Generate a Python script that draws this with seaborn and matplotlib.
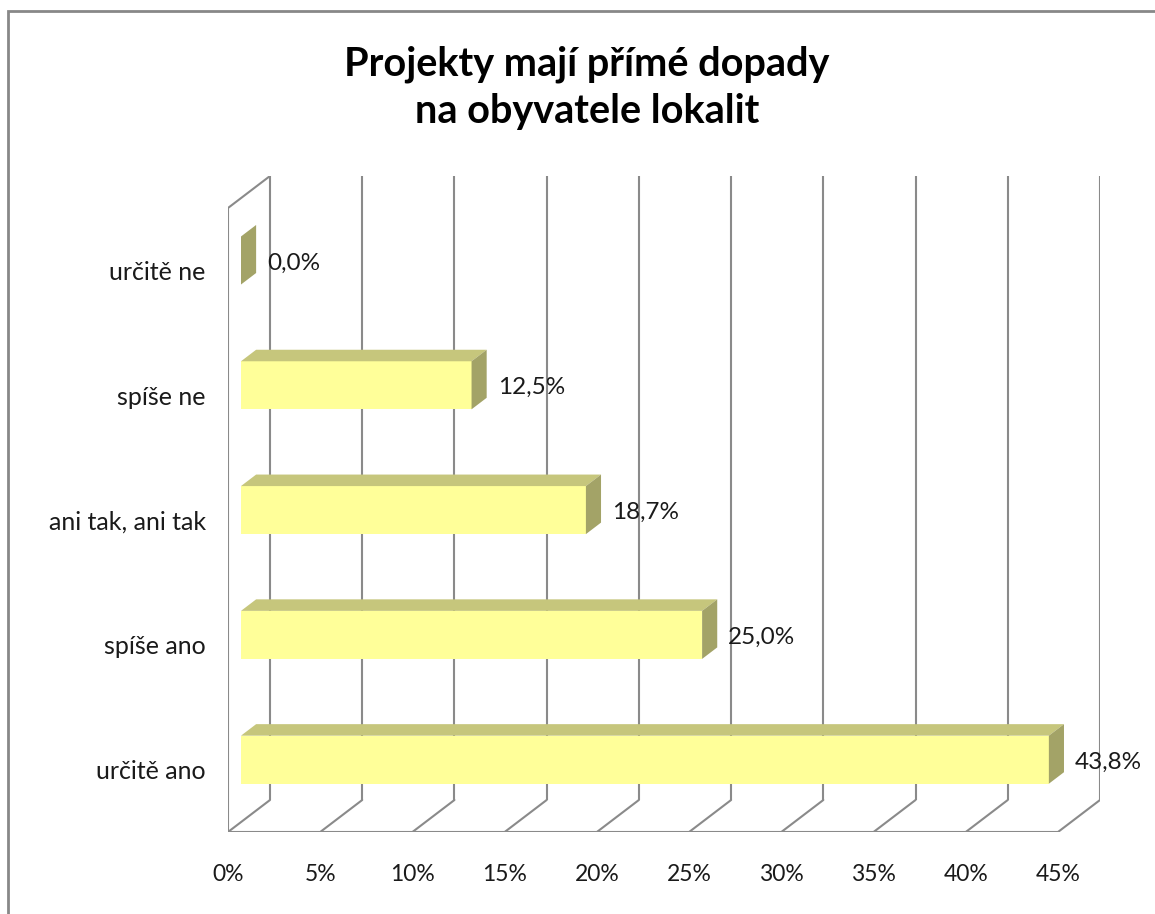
import matplotlib
matplotlib.use("Agg")
import matplotlib.pyplot as plt
from matplotlib.patches import Polygon, Rectangle
import seaborn as sns
import pandas as pd

# ---- data ----
categories = ["určitě ne", "spíše ne", "ani tak, ani tak", "spíše ano", "určitě ano"]
values = [0.0, 12.5, 18.7, 25.0, 43.8]
value_labels = ["0,0%", "12,5%", "18,7%", "25,0%", "43,8%"]
x_ticks = [0, 5, 10, 15, 20, 25, 30, 35, 40, 45]
x_tick_labels = ["0%", "5%", "10%", "15%", "20%", "25%", "30%", "35%", "40%", "45%"]
title = "Projekty mají přímé dopady\nna obyvatele lokalit"

sns.set_style("white")
plt.rcParams['font.family'] = ['Lato', 'DejaVu Sans']

W, H = 1155, 914
fig = plt.figure(figsize=(W / 100, H / 100), dpi=100)
fig.patch.set_facecolor("white")

# pixel geometry of plot frame
px_left, px_right = 228, 1100
px_bottom, px_top = 832, 176
ax = fig.add_axes([px_left / W, 1 - px_bottom / H,
                   (px_right - px_left) / W, (px_bottom - px_top) / H])

xmax = x_ticks[-1]
px_per_unit = (1058 - 228) / xmax
DEP_X = 42 / px_per_unit            # depth offset in data x units
DEP_Y = 32 / 124.8                  # depth offset in category units

df = pd.DataFrame({"cat": categories, "val": values})
sns.barplot(data=df, x="val", y="cat", orient="h", width=0.385,
            color="#FFFF99", saturation=1, edgecolor="none", ax=ax, zorder=3)

ax.set_xlim(0, xmax + DEP_X)
ax.set_ylim(len(categories) - 0.5, -0.5 - DEP_Y)

grid_c = "#8a8a8a"
lw = 1.5
y_front_bot = len(categories) - 0.5
y_front_top = -0.5
# back wall gridlines + floor lines
for t in x_ticks:
    ax.plot([t + DEP_X, t + DEP_X], [y_front_bot - DEP_Y, y_front_top - DEP_Y],
            color=grid_c, lw=lw, zorder=1, solid_capstyle="butt")
    ax.plot([t, t + DEP_X], [y_front_bot, y_front_bot - DEP_Y],
            color=grid_c, lw=lw, zorder=1)
# front floor edge
ax.plot([0, xmax], [y_front_bot, y_front_bot], color=grid_c, lw=lw, zorder=1)
# left wall
ax.plot([0, 0, DEP_X], [y_front_bot, y_front_top, y_front_top - DEP_Y],
        color=grid_c, lw=lw, zorder=1)

# 3D faces for bars
f0 = 13 / 42
off_x, off_y = f0 * DEP_X, f0 * DEP_Y
bd = 0.36
ddx, ddy = bd * DEP_X, bd * DEP_Y
top_c = "#C6C67C"
side_c = "#A3A367"
for p, lab in zip(ax.patches, value_labels):
    p.set_x(p.get_x() + off_x)
    p.set_y(p.get_y() - off_y)
    x0 = p.get_x()
    x1 = x0 + p.get_width()
    yt = p.get_y()                  # top (smaller value, axis inverted)
    yb = yt + p.get_height()
    top = Polygon([(x0, yt), (x1, yt), (x1 + ddx, yt - ddy), (x0 + ddx, yt - ddy)],
                  closed=True, facecolor=top_c, edgecolor="none", zorder=3)
    side = Polygon([(x1, yt), (x1, yb), (x1 + ddx, yb - ddy), (x1 + ddx, yt - ddy)],
                   closed=True, facecolor=side_c, edgecolor="none", zorder=3)
    ax.add_patch(top)
    ax.add_patch(side)
    ax.annotate(lab, xy=(x1 + ddx, (yt + yb) / 2 + 0.02), xytext=(8.0, 0),
                textcoords="offset points", ha="left", va="center",
                fontsize=17.5, color="#1a1a1a", zorder=5)

ax.set_xticks(x_ticks)
ax.set_xticklabels(x_tick_labels, fontsize=16.5, color="#1a1a1a")
ax.set_yticks(range(len(categories)))
ax.set_yticklabels(categories, fontsize=18, color="#1a1a1a")
ax.tick_params(axis="y", length=0, pad=16)
ax.tick_params(axis="x", length=0, pad=23)
ax.set_xlabel("")
ax.set_ylabel("")
for s in ax.spines.values():
    s.set_visible(False)
ax.set_facecolor("none")

fig.text(587 / W, 1 - 88 / H, title, ha="center", va="center",
         fontsize=28.5, fontweight="bold", color="#000000", linespacing=1.32)

# outer border (top and left visible)
fig.add_artist(Rectangle((8 / W, -0.1), 1.2, 1 - 11 / H + 0.1, transform=fig.transFigure,
                         fill=False, edgecolor="#888888", lw=2))

fig.savefig("out.png", dpi=100)
